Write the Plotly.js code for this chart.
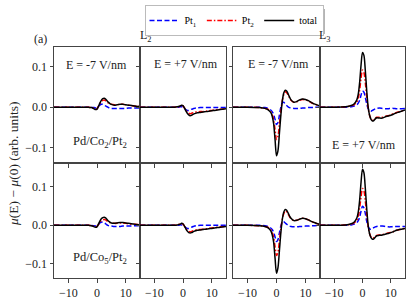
<!DOCTYPE html>
<html>
<head>
<meta charset="utf-8">
<script src="https://cdn.plot.ly/plotly-3.0.1.min.js"></script>
<style>
html,body{margin:0;padding:0;background:#fff;}
#chart{width:415px;height:304px;}
</style>
</head>
<body>
<div id="chart"></div>
<script>
// Energy grid (eV, relative to edge)
var energy = [-15, -10, -6, -4, -3, -2, -1.5, -1, -0.5, 0, 0.5, 1, 1.5, 2, 2.5, 3, 3.5, 4, 4.5, 5, 6, 7, 8, 9, 10, 11, 12, 13, 15];

var xTickVals = [-10, 0, 10];
var yTickVals = [-0.1, 0.0, 0.1];

var seriesNames = ["Pt<sub>1</sub>", "Pt<sub>2</sub>", "total"];

// Pd/Co2/Pt2, L2, E = -7 V/nm
var co2_L2_m7_pt1 = [0, 0, 0, 0, 0, 0, -0.001, -0.001, -0.002, -0.001, 0.002, 0.005, 0.007, 0.007, 0.005, 0.003, 0.001, -0.001, -0.002, -0.003, -0.003, -0.003, -0.003, -0.003, -0.003, -0.002, -0.002, -0.002, -0.002];
var co2_L2_m7_pt2 = [0, 0, 0, 0, 0, -0.001, -0.002, -0.003, -0.005, -0.004, 0.002, 0.008, 0.014, 0.017, 0.018, 0.016, 0.013, 0.010, 0.008, 0.007, 0.006, 0.006, 0.007, 0.007, 0.006, 0.005, 0.004, 0.003, 0.002];
var co2_L2_m7_tot = [0, 0, 0, 0, 0, -0.001, -0.002, -0.004, -0.006, -0.005, 0.002, 0.010, 0.017, 0.021, 0.022, 0.020, 0.016, 0.012, 0.009, 0.007, 0.005, 0.006, 0.007, 0.007, 0.006, 0.005, 0.004, 0.003, 0.001];

// Pd/Co2/Pt2, L2, E = +7 V/nm
var co2_L2_p7_pt1 = [0, 0, 0, 0, 0, 0, 0, 0.001, 0.001, 0, -0.003, -0.006, -0.008, -0.008, -0.007, -0.005, -0.004, -0.003, -0.002, -0.002, -0.001, -0.001, -0.001, -0.001, -0.001, -0.001, -0.001, -0.001, -0.001];
var co2_L2_p7_pt2 = [0, 0, 0, 0, 0, 0.001, 0.001, 0.002, 0.004, 0.003, -0.002, -0.007, -0.012, -0.015, -0.016, -0.015, -0.014, -0.013, -0.012, -0.012, -0.011, -0.011, -0.010, -0.009, -0.008, -0.007, -0.006, -0.005, -0.004];
var co2_L2_p7_tot = [0, 0, 0, 0, 0, 0.001, 0.002, 0.003, 0.005, 0.004, -0.002, -0.009, -0.015, -0.019, -0.021, -0.020, -0.018, -0.016, -0.015, -0.014, -0.013, -0.012, -0.011, -0.010, -0.009, -0.008, -0.007, -0.006, -0.004];

// Pd/Co2/Pt2, L3, E = -7 V/nm
var co2_L3_m7_pt1 = [0, 0, 0, -0.001, -0.003, -0.007, -0.011, -0.018, -0.030, -0.043, -0.038, -0.020, 0.000, 0.011, 0.012, 0.008, 0.004, 0.001, -0.001, -0.002, -0.003, -0.003, -0.003, -0.002, -0.002, -0.001, -0.001, 0, 0];
var co2_L3_m7_pt2 = [0, 0, -0.001, -0.003, -0.005, -0.011, -0.018, -0.030, -0.055, -0.080, -0.072, -0.042, -0.010, 0.016, 0.031, 0.038, 0.036, 0.030, 0.023, 0.017, 0.012, 0.013, 0.017, 0.019, 0.018, 0.015, 0.011, 0.008, 0.003];
var co2_L3_m7_tot = [0, 0, -0.001, -0.003, -0.006, -0.013, -0.022, -0.040, -0.080, -0.120, -0.108, -0.065, -0.020, 0.015, 0.035, 0.042, 0.040, 0.033, 0.025, 0.018, 0.012, 0.014, 0.018, 0.020, 0.019, 0.016, 0.012, 0.008, 0.003];

// Pd/Co2/Pt2, L3, E = +7 V/nm
var co2_L3_p7_pt1 = [0, 0, 0, 0.001, 0.003, 0.006, 0.010, 0.017, 0.030, 0.040, 0.037, 0.024, 0.008, -0.004, -0.009, -0.010, -0.008, -0.006, -0.004, -0.003, -0.002, -0.003, -0.004, -0.004, -0.003, -0.003, -0.004, -0.004, -0.003];
var co2_L3_p7_pt2 = [0, 0, 0.001, 0.003, 0.006, 0.013, 0.022, 0.042, 0.072, 0.092, 0.086, 0.060, 0.025, -0.003, -0.020, -0.029, -0.032, -0.031, -0.028, -0.025, -0.025, -0.025, -0.023, -0.021, -0.019, -0.016, -0.013, -0.011, -0.007];
var co2_L3_p7_tot = [0, 0, 0.001, 0.004, 0.008, 0.018, 0.032, 0.062, 0.105, 0.135, 0.128, 0.090, 0.040, 0.000, -0.020, -0.030, -0.034, -0.033, -0.029, -0.026, -0.027, -0.027, -0.024, -0.022, -0.020, -0.017, -0.014, -0.012, -0.007];

// Pd/Co5/Pt2, L2, E = -7 V/nm
var co5_L2_m7_pt1 = [0, 0, 0, 0, 0, 0, -0.001, -0.001, -0.002, -0.001, 0.002, 0.006, 0.008, 0.008, 0.006, 0.004, 0.001, -0.001, -0.002, -0.002, -0.003, -0.003, -0.003, -0.002, -0.002, -0.002, -0.002, -0.001, -0.001];
var co5_L2_m7_pt2 = [0, 0, 0, 0, 0, -0.001, -0.002, -0.003, -0.004, -0.003, 0.002, 0.007, 0.012, 0.014, 0.015, 0.014, 0.011, 0.009, 0.007, 0.006, 0.005, 0.005, 0.006, 0.006, 0.005, 0.004, 0.003, 0.003, 0.002];
var co5_L2_m7_tot = [0, 0, 0, 0, 0, -0.001, -0.002, -0.004, -0.005, -0.004, 0.003, 0.011, 0.017, 0.020, 0.021, 0.019, 0.015, 0.011, 0.008, 0.006, 0.005, 0.006, 0.007, 0.007, 0.006, 0.005, 0.004, 0.003, 0.001];

// Pd/Co5/Pt2, L2, E = +7 V/nm
var co5_L2_p7_pt1 = [0, 0, 0, 0, 0, 0, 0, 0.001, 0.001, 0, -0.003, -0.006, -0.008, -0.008, -0.007, -0.005, -0.003, -0.002, -0.001, -0.001, 0, 0, 0, 0, 0, 0, 0, 0, 0];
var co5_L2_p7_pt2 = [0, 0, 0, 0, 0, 0.001, 0.002, 0.003, 0.004, 0.003, -0.002, -0.008, -0.013, -0.016, -0.017, -0.016, -0.014, -0.013, -0.012, -0.011, -0.011, -0.010, -0.009, -0.008, -0.007, -0.006, -0.005, -0.004, -0.003];
var co5_L2_p7_tot = [0, 0, 0, 0, 0, 0.001, 0.002, 0.003, 0.005, 0.004, -0.002, -0.009, -0.015, -0.019, -0.020, -0.019, -0.017, -0.015, -0.014, -0.013, -0.012, -0.011, -0.010, -0.009, -0.008, -0.007, -0.006, -0.005, -0.003];

// Pd/Co5/Pt2, L3, E = -7 V/nm
var co5_L3_m7_pt1 = [0, 0, 0, -0.001, -0.003, -0.007, -0.011, -0.018, -0.030, -0.042, -0.037, -0.020, -0.002, 0.008, 0.009, 0.006, 0.003, 0.000, -0.002, -0.003, -0.004, -0.004, -0.003, -0.003, -0.002, -0.002, -0.001, -0.001, 0];
var co5_L3_m7_pt2 = [0, 0, -0.001, -0.003, -0.005, -0.011, -0.018, -0.030, -0.055, -0.078, -0.070, -0.040, -0.009, 0.016, 0.030, 0.037, 0.035, 0.029, 0.022, 0.017, 0.012, 0.013, 0.016, 0.018, 0.017, 0.014, 0.010, 0.007, 0.002];
var co5_L3_m7_tot = [0, 0, -0.001, -0.003, -0.006, -0.014, -0.024, -0.043, -0.085, -0.124, -0.110, -0.066, -0.020, 0.015, 0.034, 0.041, 0.039, 0.032, 0.024, 0.018, 0.012, 0.013, 0.016, 0.018, 0.017, 0.014, 0.010, 0.007, 0.002];

// Pd/Co5/Pt2, L3, E = +7 V/nm
var co5_L3_p7_pt1 = [0, 0, 0, 0.001, 0.003, 0.007, 0.012, 0.021, 0.037, 0.049, 0.045, 0.030, 0.010, -0.003, -0.009, -0.010, -0.008, -0.006, -0.004, -0.003, -0.002, -0.002, -0.003, -0.004, -0.004, -0.003, -0.003, -0.003, -0.003];
var co5_L3_p7_pt2 = [0, 0, 0.001, 0.003, 0.006, 0.013, 0.023, 0.044, 0.074, 0.095, 0.089, 0.062, 0.026, -0.003, -0.021, -0.030, -0.033, -0.032, -0.029, -0.026, -0.025, -0.024, -0.022, -0.020, -0.018, -0.016, -0.013, -0.011, -0.008];
var co5_L3_p7_tot = [0, 0, 0.001, 0.004, 0.008, 0.019, 0.034, 0.066, 0.112, 0.145, 0.136, 0.095, 0.042, 0.000, -0.022, -0.032, -0.036, -0.035, -0.031, -0.027, -0.026, -0.025, -0.023, -0.021, -0.019, -0.016, -0.013, -0.011, -0.008];

var panels = [
  [co2_L2_m7_pt1, co2_L2_m7_pt2, co2_L2_m7_tot],
  [co2_L2_p7_pt1, co2_L2_p7_pt2, co2_L2_p7_tot],
  [co2_L3_m7_pt1, co2_L3_m7_pt2, co2_L3_m7_tot],
  [co2_L3_p7_pt1, co2_L3_p7_pt2, co2_L3_p7_tot],
  [co5_L2_m7_pt1, co5_L2_m7_pt2, co5_L2_m7_tot],
  [co5_L2_p7_pt1, co5_L2_p7_pt2, co5_L2_p7_tot],
  [co5_L3_m7_pt1, co5_L3_m7_pt2, co5_L3_m7_tot],
  [co5_L3_p7_pt1, co5_L3_p7_pt2, co5_L3_p7_tot]
];

var W = 415, H = 304;
function px(v){ return v / W; }
function py(v){ return 1 - v / H; }

var lineStyles = [
  {color: '#0000ff', width: 1.5, dash: '5px,2.5px'},
  {color: '#ff0000', width: 1.5, dash: '5px,2px,1.5px,2px'},
  {color: '#000000', width: 1.5, dash: 'solid'}
];

var traces = [];
panels.forEach(function(p, i){
  var ax = i === 0 ? '' : String(i + 1);
  for (var s = 0; s < 3; s++) {
    traces.push({
      type: 'scatter', mode: 'lines',
      x: energy, y: p[s],
      xaxis: 'x' + ax, yaxis: 'y' + ax,
      name: seriesNames[s],
      legendgroup: 'g' + s,
      showlegend: i === 0,
      line: Object.assign({shape: 'spline', smoothing: 0.8}, lineStyles[s])
    });
  }
});

var colX = [[54, 140], [140, 226], [233, 320], [320, 405]];
var rowY = [[47.3, 163], [163, 278.3]];
var rowRange = [[-0.138, 0.148], [-0.137, 0.161]];

var fontFam = '"Liberation Serif", "Times New Roman", serif';
var layout = {
  width: W, height: H,
  margin: {l: 0, r: 0, t: 0, b: 0},
  paper_bgcolor: '#fff', plot_bgcolor: 'rgba(0,0,0,0)',
  font: {family: fontFam, size: 12, color: '#000'},
  showlegend: true,
  legend: {
    orientation: 'h', x: px(234), xanchor: 'center', y: py(5), yanchor: 'top',
    bgcolor: '#fff', bordercolor: '#bbbbbb', borderwidth: 1,
    font: {family: fontFam, size: 10, color: '#000'},
    tracegroupgap: 0, itemwidth: 30
  },
  annotations: [],
  shapes: [
    // legend drop shadow
    {type: 'rect', xref: 'paper', yref: 'paper', layer: 'above',
     x0: px(151), x1: px(325), y0: py(34), y1: py(9),
     fillcolor: '#b4b4b4', line: {width: 0}}
  ]
};

for (var i = 0; i < 8; i++) {
  var r = Math.floor(i / 4), c = i % 4;
  var ax = i === 0 ? '' : String(i + 1);
  layout['xaxis' + ax] = {
    domain: [px(colX[c][0]), px(colX[c][1])],
    anchor: 'y' + ax,
    range: [-15, 15],
    tickvals: xTickVals,
    showticklabels: r === 1,
    ticks: 'outside', ticklen: 3.5, tickwidth: 1, tickcolor: '#444',
    showline: true, mirror: true, linecolor: '#444', linewidth: 1,
    showgrid: false, zeroline: false,
    tickfont: {family: fontFam, size: 12, color: '#222'}
  };
  layout['yaxis' + ax] = {
    domain: [py(rowY[r][1]), py(rowY[r][0])],
    anchor: 'x' + ax,
    range: rowRange[r],
    tickvals: yTickVals,
    tickformat: '.1f',
    showticklabels: c === 0,
    ticks: 'outside', ticklen: 3.5, tickwidth: 1, tickcolor: '#444',
    showline: true, mirror: true, linecolor: '#444', linewidth: 1,
    showgrid: false, zeroline: false,
    tickfont: {family: fontFam, size: 12, color: '#222'}
  };
}

function ann(text, x, y, size, extra){
  var a = {text: text, x: px(x), y: py(y), xref: 'paper', yref: 'paper',
    showarrow: false, xanchor: 'center', yanchor: 'middle',
    font: {family: fontFam, size: size, color: '#222'}};
  return Object.assign(a, extra || {});
}
layout.annotations.push(ann('(a)', 40, 39, 12));
layout.annotations.push(ann('L<sub>2</sub>', 146, 35.5, 12));
layout.annotations.push(ann('L<sub>3</sub>', 325, 35.5, 12));
layout.annotations.push(ann('E = -7 V/nm', 96, 65, 12));
layout.annotations.push(ann('E = +7 V/nm', 186, 64, 12));
layout.annotations.push(ann('E = -7 V/nm', 278, 64, 12));
layout.annotations.push(ann('E = +7 V/nm', 364, 145, 12));
layout.annotations.push(ann('Pd/Co<sub>2</sub>/Pt<sub>2</sub>', 100, 142, 12.5));
layout.annotations.push(ann('Pd/Co<sub>5</sub>/Pt<sub>2</sub>', 100, 258, 12.5));
layout.annotations.push(ann('<i>μ</i>(E) − <i>μ</i>(0) (arb. units)', 13, 164, 13.5, {textangle: -90}));

Plotly.newPlot('chart', traces, layout, {displayModeBar: false, staticPlot: true});
</script>
</body>
</html>
